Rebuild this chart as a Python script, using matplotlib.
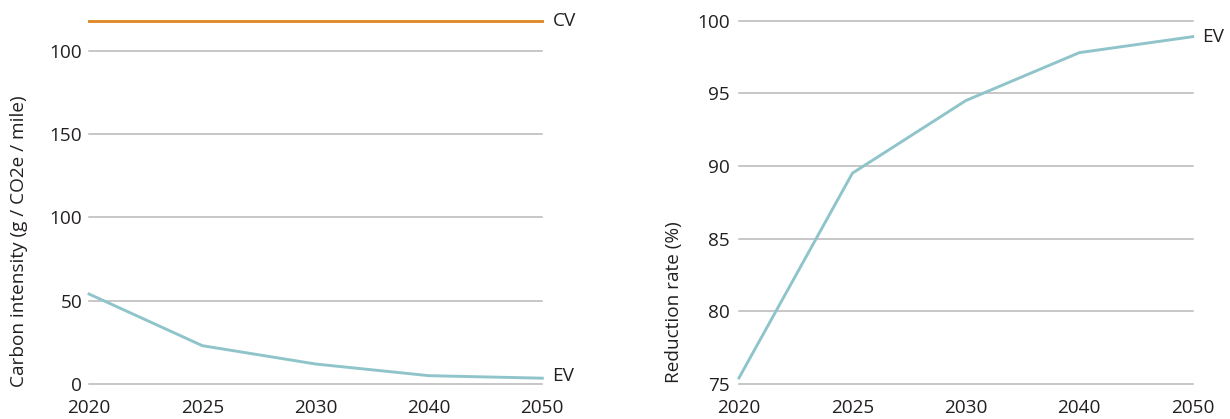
import matplotlib.pyplot as plt

plt.rcParams['font.family'] = ['Open Sans', 'DejaVu Sans']

years = ['2020', '2025', '2030', '2040', '2050']
ev_intensity = [54, 23, 12, 5, 3.5]
cv_intensity = [218, 218, 218, 218, 218]
ev_reduction = [75.4, 89.5, 94.5, 97.8, 98.9]

left_ticks = [0, 50, 100, 150, 200]
left_tick_labels = ['0', '50', '100', '150', '100']
right_ticks = [75, 80, 85, 90, 95, 100]

teal = '#8fc5ca'
orange = '#e08a2b'
grid_col = '#b8b8b8'
text_col = '#231f20'
fs = 13.7

fig = plt.figure(figsize=(12.3, 4.19), dpi=100)
ax1 = fig.add_axes([0.0724, 0.0835, 0.3685, 0.875])
ax2 = fig.add_axes([0.6008, 0.0842, 0.3689, 0.8664])


def style(ax, ypad):
    for s in ax.spines.values():
        s.set_visible(False)
    ax.tick_params(length=0, labelsize=fs, colors=text_col)
    ax.tick_params(axis='x', pad=11)
    ax.tick_params(axis='y', pad=ypad)
    ax.grid(axis='y', color=grid_col, lw=1.1)
    ax.set_axisbelow(True)
    ax.set_xlim(0, len(years) - 1)
    ax.set_xticks(range(len(years)))
    ax.set_xticklabels(years)
    # keep the bottom gridline whole
    for gl in ax.yaxis.get_gridlines():
        gl.set_clip_on(False)


x = list(range(len(years)))

# left panel
ax1.plot(x, cv_intensity, color=orange, lw=2.1, clip_on=False)
ax1.plot(x, ev_intensity, color=teal, lw=2.1, clip_on=False)
ax1.set_ylim(0, 220)
ax1.set_yticks(left_ticks)
ax1.set_yticklabels(left_tick_labels)
style(ax1, 5)
ax1.text(4.09, cv_intensity[-1], 'CV', va='center', ha='left', fontsize=fs, color=text_col)
ax1.text(4.09, ev_intensity[-1] + 1.5, 'EV', va='center', ha='left', fontsize=fs, color=text_col)

# right panel
ax2.plot(x, ev_reduction, color=teal, lw=2.1, clip_on=False)
ax2.set_ylim(75, 100)
ax2.set_yticks(right_ticks)
style(ax2, 6.5)
ax2.text(4.08, ev_reduction[-1], 'EV', va='center', ha='left', fontsize=fs, color=text_col)

fig.text(0.0154, 0.425, 'Carbon intensity (g / CO2e / mile)', rotation=90,
         ha='center', va='center', fontsize=fs, color=text_col)
fig.text(0.548, 0.279, 'Reduction rate (%)', rotation=90,
         ha='center', va='center', fontsize=fs, color=text_col)

fig.savefig('out.png', dpi=100)
